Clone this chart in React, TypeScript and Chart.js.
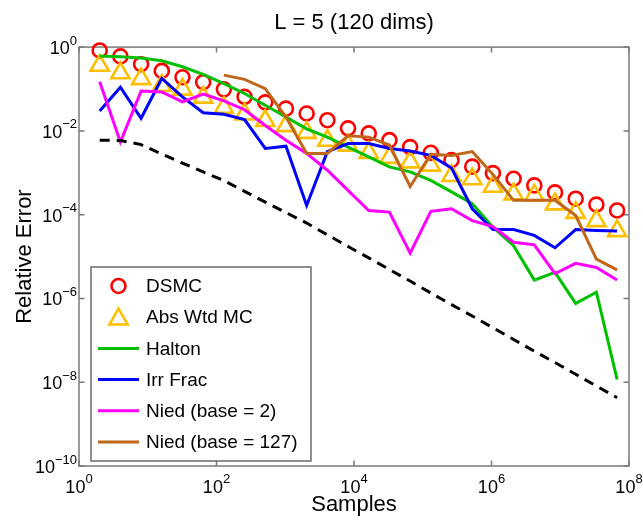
import React, { useEffect, useRef } from "react";
import { Chart, registerables } from "chart.js";

Chart.register(...registerables);

// ---------- data ----------
const samples = [
  2, 4, 8, 16, 32, 64, 128, 256, 512, 1024, 2048, 4096, 8192, 16384, 32768,
  65536, 131072, 262144, 524288, 1048576, 2097152, 4194304, 8388608,
  16777216, 33554432, 67108864,
];

const dsmc = [
  0.83, 0.6, 0.39, 0.27, 0.19, 0.145, 0.098, 0.065, 0.048, 0.034, 0.026, 0.018,
  0.0115, 0.0087, 0.006, 0.0041, 0.003, 0.002, 0.0014, 9.8e-4, 7.2e-4, 5.0e-4,
  3.4e-4, 2.4e-4, 1.74e-4, 1.26e-4,
];

const absWtdMC = [
  0.363, 0.24, 0.174, 0.12, 0.098, 0.063, 0.036, 0.025, 0.0174, 0.0132, 0.0091,
  0.0059, 0.0045, 0.003, 0.0023, 0.0018, 0.0015, 8.5e-4, 7.1e-4, 4.7e-4, 3.1e-4,
  2.9e-4, 1.78e-4, 1.12e-4, 7.1e-5, 4.1e-5,
];

const halton = [
  0.61, 0.59, 0.55, 0.47, 0.34, 0.224, 0.135, 0.078, 0.041, 0.0214, 0.0112,
  0.0071, 0.0041, 0.0024, 0.00138, 0.00105, 6.6e-4, 3.5e-4, 1.82e-4, 5.0e-5,
  1.82e-5, 2.75e-6, 4.2e-6, 7.6e-7, 1.41e-6, 1.17e-8,
];

const irrFrac = [
  0.03, 0.11, 0.02, 0.178, 0.065, 0.027, 0.025, 0.0186, 0.0038, 0.0043, 1.66e-4,
  0.0032, 0.005, 0.005, 0.0038, 0.0033, 0.0026, 0.0013, 1.38e-4, 4.4e-5, 4.4e-5,
  3.2e-5, 1.62e-5, 4.4e-5, 4.2e-5, 4.1e-5,
];

const nied2 = [
  0.148, 0.0054, 0.089, 0.085, 0.049, 0.076, 0.052, 0.032, 0.0135, 0.006,
  0.0029, 0.00115, 3.8e-4, 1.26e-4, 1.15e-4, 1.2e-5, 1.2e-4, 1.38e-4, 7.2e-5,
  5.2e-5, 2.2e-5, 1.9e-5, 3.9e-6, 6.9e-6, 5.5e-6, 2.75e-6,
];

const nied127 = [
  null, null, null, null, null, null, 0.214, 0.17, 0.102, 0.0214, 0.0029, 0.0029,
  0.0076, 0.0071, 0.0046, 4.7e-4, 0.00275, 0.0026, 0.0032, 9.1e-4, 2.2e-4,
  2.2e-4, 2.2e-4, 9.5e-5, 8.7e-6, 4.8e-6,
];

const reference = [
  6.0e-3, 5.9e-3, 4.7e-3, 2.8e-3, 1.7e-3, 1.05e-3, 6.5e-4, 3.6e-4, 2.0e-4,
  1.12e-4, 6.3e-5, 3.3e-5, 1.74e-5, 9.3e-6, 4.9e-6, 2.6e-6, 1.35e-6, 7.1e-7,
  3.8e-7, 2.0e-7, 1.05e-7, 5.5e-8, 2.95e-8, 1.55e-8, 8.1e-9, 4.3e-9,
];

const seriesLabels = [
  "DSMC",
  "Abs Wtd MC",
  "Halton",
  "Irr Frac",
  "Nied (base = 2)",
  "Nied (base = 127)",
];

const xTickExps = [0, 2, 4, 6, 8];
const yTickExps = [0, -2, -4, -6, -8, -10];

const titleText = "L = 5 (120 dims)";
const xLabel = "Samples";
const yLabel = "Relative Error";

// ---------- styling ----------
const FONT = "'Liberation Sans', Arial, Helvetica, sans-serif";
const FRAME = "#7a7a7a";

function expText(e: number) {
  return e < 0 ? "\u2212" + Math.abs(e) : String(e);
}

export default function App() {
  const ref = useRef<HTMLCanvasElement | null>(null);

  useEffect(() => {
    if (!ref.current) return;
    const pts = (arr: (number | null)[]) =>
      samples
        .map((x, i) => ({ x, y: arr[i] }))
        .filter((p) => p.y !== null && p.y !== undefined);

    const matlabAxes = {
      id: "matlabAxes",
      beforeDraw(chart: any) {
        const { ctx, width, height } = chart;
        ctx.save();
        ctx.fillStyle = "#ffffff";
        ctx.fillRect(0, 0, width, height);
        ctx.restore();
      },
      beforeDatasetsDraw(chart: any) {
        const { ctx, chartArea: a, scales } = chart;
        ctx.save();
        ctx.strokeStyle = FRAME;
        ctx.lineWidth = 1.5;
        ctx.strokeRect(a.left, a.top, a.right - a.left, a.bottom - a.top);
        const tl = 5.5;
        ctx.beginPath();
        xTickExps.forEach((e) => {
          const px = scales.x.getPixelForValue(Math.pow(10, e));
          ctx.moveTo(px, a.bottom);
          ctx.lineTo(px, a.bottom - tl);
          ctx.moveTo(px, a.top);
          ctx.lineTo(px, a.top + tl);
        });
        yTickExps.forEach((e) => {
          const py = scales.y.getPixelForValue(Math.pow(10, e));
          ctx.moveTo(a.left, py);
          ctx.lineTo(a.left + tl, py);
          ctx.moveTo(a.right, py);
          ctx.lineTo(a.right - tl, py);
        });
        ctx.stroke();
        ctx.restore();
      },
      afterDraw(chart: any) {
        const { ctx, chartArea: a, scales } = chart;
        const baseFont = `18px ${FONT}`;
        const expFont = `13px ${FONT}`;
        ctx.save();
        ctx.fillStyle = "#000";
        ctx.textBaseline = "middle";
        ctx.textAlign = "left";
        // y tick labels
        yTickExps.forEach((e) => {
          const py = scales.y.getPixelForValue(Math.pow(10, e));
          const et = expText(e);
          ctx.font = expFont;
          const ew = ctx.measureText(et).width;
          ctx.font = baseFont;
          const bw = ctx.measureText("10").width;
          const xr = a.left - 2;
          ctx.fillText("10", xr - ew - bw, py + 2);
          ctx.font = expFont;
          ctx.fillText(et, xr - ew, py - 6);
        });
        // x tick labels
        xTickExps.forEach((e) => {
          const px = scales.x.getPixelForValue(Math.pow(10, e));
          const et = expText(e);
          ctx.font = expFont;
          const ew = ctx.measureText(et).width;
          ctx.font = baseFont;
          const bw = ctx.measureText("10").width;
          const x0 = px - (bw + ew) / 2;
          ctx.fillText("10", x0, a.bottom + 22);
          ctx.font = expFont;
          ctx.fillText(et, x0 + bw, a.bottom + 13);
        });

        // legend
        const lx = a.left + 12;
        const ly = 267;
        const lw = 220;
        const lh = 194;
        ctx.fillStyle = "#ffffff";
        ctx.fillRect(lx, ly, lw, lh);
        ctx.strokeStyle = "#555";
        ctx.lineWidth = 1.3;
        ctx.strokeRect(lx, ly, lw, lh);
        const items = chart.data.datasets.filter((d: any) => d.inLegend);
        items.forEach((d: any, i: number) => {
          const cy = ly + 19 + i * 31.2;
          const sx = lx + 7;
          const ex = lx + 48;
          const mx = (sx + ex) / 2;
          ctx.strokeStyle = d.borderColor;
          if (d.showLine === false) {
            ctx.lineWidth = d.pointBorderWidth;
            ctx.beginPath();
            if (d.pointStyle === "triangle") {
              const r = d.pointRadius;
              const my = cy + 2;
              ctx.moveTo(mx, my - r);
              ctx.lineTo(mx + r * Math.sin(Math.PI * 2 / 3), my + r / 2);
              ctx.lineTo(mx - r * Math.sin(Math.PI * 2 / 3), my + r / 2);
              ctx.closePath();
            } else {
              ctx.arc(mx, cy, d.pointRadius, 0, Math.PI * 2);
            }
            ctx.stroke();
          } else {
            ctx.lineWidth = d.borderWidth;
            ctx.beginPath();
            ctx.moveTo(sx, cy);
            ctx.lineTo(ex, cy);
            ctx.stroke();
          }
          ctx.fillStyle = "#000";
          ctx.font = `19px ${FONT}`;
          ctx.textBaseline = "middle";
          ctx.fillText(d.label, lx + 55, cy + 1);
        });
        ctx.restore();
      },
    };

    const lineDs = (label: string, arr: (number | null)[], color: string, order: number) => ({
      label,
      data: pts(arr),
      borderColor: color,
      backgroundColor: color,
      borderWidth: 3,
      pointRadius: 0,
      showLine: true,
      clip: false,
      order,
      inLegend: true,
    });

    const chart = new Chart(ref.current, {
      type: "line",
      data: {
        datasets: [
          {
            label: seriesLabels[0],
            data: pts(dsmc),
            showLine: false,
            pointStyle: "circle",
            pointRadius: 7,
            pointBorderWidth: 2.6,
            borderColor: "#ff0000",
            pointBorderColor: "#ff0000",
            backgroundColor: "rgba(0,0,0,0)",
            pointBackgroundColor: "rgba(0,0,0,0)",
            clip: false,
            order: 6,
            inLegend: true,
          } as any,
          {
            label: seriesLabels[1],
            data: pts(absWtdMC),
            showLine: false,
            pointStyle: "triangle",
            pointRadius: 10.5,
            pointBorderWidth: 2.6,
            borderColor: "#ffbf00",
            pointBorderColor: "#ffbf00",
            backgroundColor: "rgba(0,0,0,0)",
            pointBackgroundColor: "rgba(0,0,0,0)",
            clip: false,
            order: 5,
            inLegend: true,
          } as any,
          lineDs(seriesLabels[2], halton, "#00c000", 4) as any,
          lineDs(seriesLabels[3], irrFrac, "#0000ff", 3) as any,
          lineDs(seriesLabels[4], nied2, "#ff00ff", 2) as any,
          lineDs(seriesLabels[5], nied127, "#c0661a", 1) as any,
          {
            label: "reference",
            data: pts(reference),
            borderColor: "#000000",
            backgroundColor: "#000000",
            borderWidth: 3,
            borderDash: [10, 7],
            pointRadius: 0,
            showLine: true,
            clip: false,
            order: 0,
            inLegend: false,
          } as any,
        ],
      },
      options: {
        animation: false,
        responsive: true,
        maintainAspectRatio: false,
        events: [],
        layout: { padding: { left: 0, right: 14, top: 0, bottom: 0 } },
        plugins: {
          legend: { display: false },
          tooltip: { enabled: false },
          title: {
            display: true,
            text: titleText,
            fullSize: false,
            color: "#000",
            font: { family: FONT, size: 22, weight: "normal" },
            padding: { top: 9.5, bottom: 11.2 },
          },
        },
        scales: {
          x: {
            type: "logarithmic",
            position: "bottom",
            min: 1,
            max: 1e8,
            grid: { display: false, drawTicks: false },
            border: { display: false },
            ticks: { display: false },
            afterBuildTicks: (s: any) => {
              s.ticks = xTickExps.map((e) => ({ value: Math.pow(10, e) }));
            },
            afterFit: (s: any) => {
              s.height = 55;
            },
            title: {
              display: true,
              text: xLabel,
              color: "#000",
              font: { family: FONT, size: 22 },
              padding: { top: 0, bottom: 3 },
            },
          },
          y: {
            type: "logarithmic",
            position: "left",
            min: 1e-10,
            max: 1,
            grid: { display: false, drawTicks: false },
            border: { display: false },
            ticks: { display: false },
            afterBuildTicks: (s: any) => {
              s.ticks = yTickExps.map((e) => ({ value: Math.pow(10, e) }));
            },
            afterFit: (s: any) => {
              s.width = 79;
            },
            title: {
              display: true,
              text: yLabel,
              color: "#000",
              font: { family: FONT, size: 22 },
              padding: { top: 12, bottom: 0 },
            },
          },
        },
      } as any,
      plugins: [matlabAxes as any],
    });

    return () => chart.destroy();
  }, []);

  return (
    <div
      style={{
        position: "absolute",
        left: 0,
        top: 0,
        width: 643,
        height: 521,
        background: "#ffffff",
      }}
    >
      <canvas ref={ref} />
    </div>
  );
}
